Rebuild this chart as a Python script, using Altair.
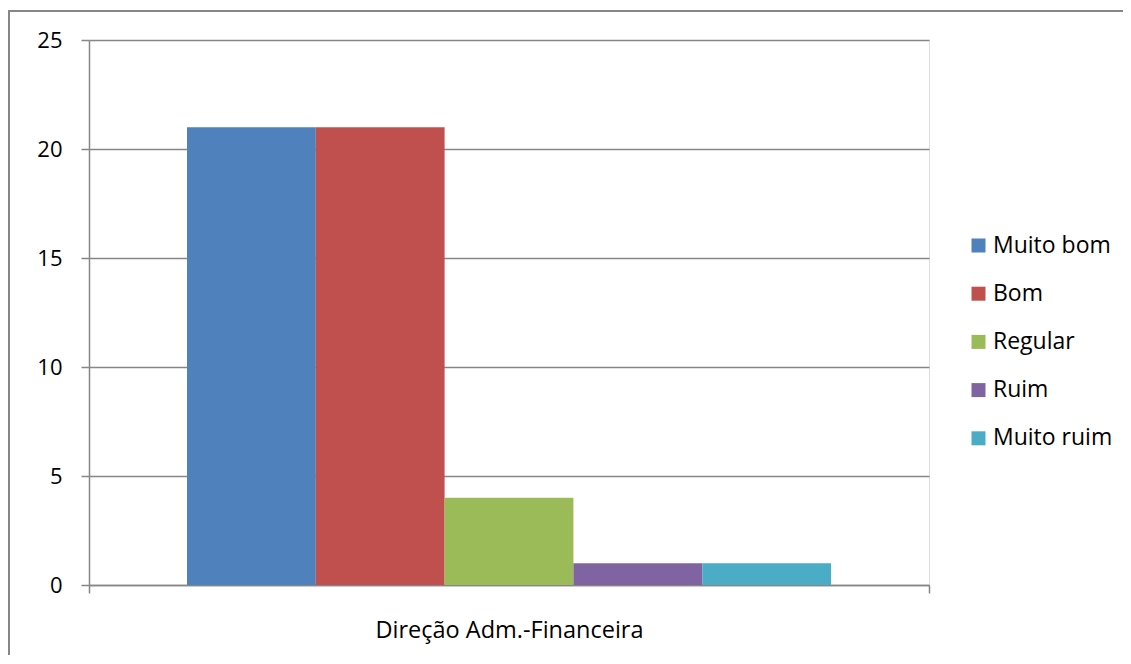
import altair as alt
import pandas as pd

categories = ["Muito bom", "Bom", "Regular", "Ruim", "Muito ruim"]
values = [21, 21, 4, 1, 1]
colors = ["#4F81BD", "#C0504D", "#9BBB59", "#8064A2", "#4BACC6"]
group_label = "Direção Adm.-Financeira"
y_ticks = [0, 5, 10, 15, 20, 25]

FONT = "Open Sans"
GRID = "#868686"

df = pd.DataFrame({
    "grupo": [group_label] * len(categories),
    "avaliacao": categories,
    "valor": values,
})

bars = alt.Chart(df).mark_bar(strokeWidth=0).encode(
    x=alt.X("grupo:N", title=None,
            scale=alt.Scale(paddingInner=0, paddingOuter=0),
            axis=alt.Axis(labelAngle=0, tickBand="extent", labelFont=FONT,
                          labelFontSize=23.5, labelColor="#000000", labelLimit=0,
                          labelPadding=25, tickSize=8, tickColor=GRID,
                          tickWidth=1.5, domainColor=GRID, domainWidth=1.5,
                          grid=False)),
    xOffset=alt.XOffset("avaliacao:N", sort=categories,
                        scale=alt.Scale(paddingInner=0, paddingOuter=0.761)),
    y=alt.Y("valor:Q", title=None,
            scale=alt.Scale(domain=[0, 25], nice=False),
            axis=alt.Axis(values=y_ticks, labelFont=FONT, labelFontSize=22,
                          labelColor="#000000", labelPadding=19, tickSize=8,
                          tickColor=GRID, tickWidth=1.5, domainColor=GRID,
                          domainWidth=1.5, gridColor=GRID, gridWidth=1.5,
                          gridOpacity=1)),
    color=alt.Color("avaliacao:N", sort=categories,
                    scale=alt.Scale(domain=categories, range=colors),
                    legend=alt.Legend(title=None, orient="none",
                                      legendX=878, legendY=194,
                                      symbolType="square", symbolSize=196,
                                      symbolStrokeWidth=0, labelFont=FONT,
                                      labelFontSize=23, labelColor="#000000",
                                      rowPadding=24.2, labelOffset=3,
                                      padding=0, labelLimit=0)),
)

frame_df = pd.DataFrame({"k": [0]})
frame_top = alt.Chart(frame_df).mark_rule(color=GRID, strokeWidth=2).encode(
    x=alt.value(-81), x2=alt.value(1100), y=alt.value(-29)
)
frame_left = alt.Chart(frame_df).mark_rule(color=GRID, strokeWidth=2).encode(
    x=alt.value(-80), y=alt.value(-29), y2=alt.value(700)
)

chart = alt.layer(bars, frame_top, frame_left).properties(
    width=840, height=545,
    autosize=alt.AutoSizeParams(type="none"),
    padding={"left": 81, "top": 32, "right": 194, "bottom": 70},
).configure_view(stroke=None).configure(background="#ffffff")

chart.save("out.html", embed_options={"renderer": "svg", "actions": False})
